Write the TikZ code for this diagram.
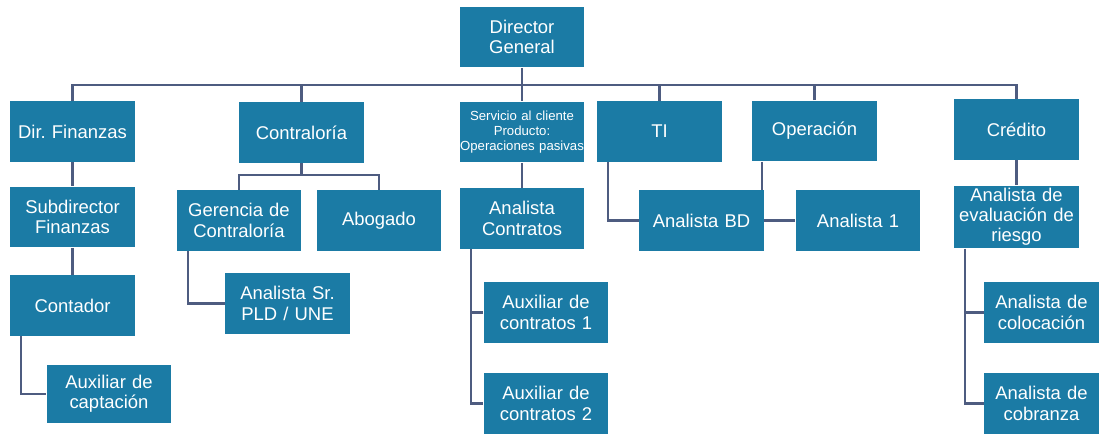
\documentclass[tikz,border=0pt]{standalone}
\usepackage{fontspec}
\setmainfont{Liberation Sans}
\definecolor{boxblue}{RGB}{27,123,165}
\definecolor{linkgray}{RGB}{78,92,128}
\begin{document}
\begin{tikzpicture}[x=0.02cm,y=-0.02cm,
box/.style ={rectangle, fill=boxblue, text=white,
  text width=2.4cm, align=center, inner sep=0.05cm,
  minimum width=2.5cm, minimum height=1.22cm,
  font=\fontsize{10.5}{11.5}\selectfont
},
link/.style ={draw=linkgray, line width=1.2pt}]
\useasboundingbox (0,0) rectangle (1099,435);
% first level
\node (dg) at (522,37) [box] {Director\\General};
\node (fin) at (72.5,131.5) [box] {Dir.\ Finanzas};
\node (contra) at (301.5,132.5) [box] {Contraloría};
\node (serv) at (522,132) [box, text width=2.5cm, inner sep=0pt, font=\fontsize{7.5}{8.5}\selectfont] {Servicio al cliente\\Producto:\\Operaciones pasivas};
\node (ti) at (659.5,131.5) [box] {TI};
\node (oper) at (814.5,131) [box] {Operación};
\node (cred) at (1016.5,129.5) [box] {Crédito};
% second level
\node (subfin) at (72.5,217) [box] {Subdirector\\Finanzas};
\node (ger) at (239,220.5) [box] {Gerencia de\\Contraloría};
\node (abog) at (379,220.5) [box] {Abogado};
\node (ancon) at (522,218.5) [box] {Analista\\Contratos};
\node (bd) at (701.5,220.5) [box] {Analista BD};
\node (an1) at (858,220.5) [box] {Analista 1};
\node (eval) at (1016.5,217) [box] {Analista de\\evaluación de\\riesgo};
% third level
\node (cont) at (72.5,305.5) [box] {Contador};
\node (sr) at (287.5,303.5) [box] {Analista Sr.\\PLD / UNE};
\node (aux1) at (546,312.5) [box] {Auxiliar de\\contratos 1};
\node (aux2) at (546,403.5) [box] {Auxiliar de\\contratos 2};
\node (col) at (1041.5,312.5) [box, minimum width=2.3cm, text width=2.2cm] {Analista de\\colocación};
\node (cob) at (1041.5,403.5) [box, minimum width=2.3cm, text width=2.2cm] {Analista de\\cobranza};
\node (capt) at (109,394) [box, minimum height=1.16cm] {Auxiliar de\\captación};

% connectors
\coordinate (bus) at (0,85);
\draw[link] (fin.north) |- (cred.north |- bus) -- (cred.north);
\foreach \n in {contra,ti,oper}
  \draw[link] (\n.north) -- (\n.north |- bus);
\draw[link] (dg.south) -- (serv.north);
\draw[link] (fin) -- (subfin);
\draw[link] (subfin) -- (cont);
\draw[link] ([xshift=0.22cm]cont.south west) |- (capt.west);
\draw[link] (contra.south) -- ++(0,12) coordinate (cb);
\draw[link] (ger.north) |- (cb) -| (abog.north);
\draw[link] ([xshift=0.23cm]ger.south west) |- (sr.west);
\draw[link] (serv) -- (ancon);
\draw[link] ([xshift=0.24cm]ancon.south west) |- (aux2.west);
\draw[link] (aux1.west) -- ++(-12,0);
\draw[link] ([xshift=0.22cm]ti.south west) |- (bd.west);
\coordinate (ol) at ([xshift=0.2cm]oper.south west);
\draw[link] (ol) -- (ol |- bd.north);
\draw[link] (bd) -- (an1);
\draw[link] (cred) -- (eval);
\draw[link] ([xshift=0.22cm]eval.south west) |- (cob.west);
\draw[link] (col.west) -- ++(-19,0);
\end{tikzpicture}
\end{document}
